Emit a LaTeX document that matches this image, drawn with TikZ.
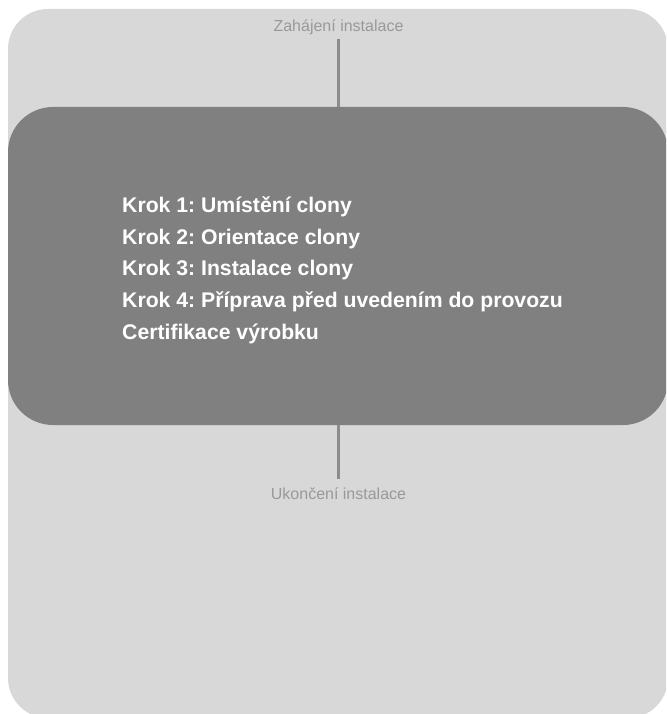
\documentclass[tikz,border=0pt]{standalone}
\usepackage{fontspec}
\setmainfont{Liberation Sans}
\frenchspacing
\definecolor{outerbg}{HTML}{D8D8D8}
\definecolor{boxbg}{HTML}{808080}
\definecolor{linecol}{HTML}{8C8C8C}
\definecolor{labelcol}{HTML}{999999}
\begin{document}
\begin{tikzpicture}[x=1pt,y=-1pt,
  framebox/.style={fill=outerbg,draw=none,rounded corners=40pt,minimum width=660pt,minimum height=709pt,inner sep=0pt},
  stepsbox/.style={fill=boxbg,draw=none,rounded corners=45pt,minimum width=660pt,minimum height=318pt,inner sep=0pt},
  steptext/.style={text=white,align=left,font=\bfseries\fontsize{21.2}{31.7}\selectfont,inner sep=0pt},
  endlabel/.style={text=labelcol,font=\fontsize{16}{18}\selectfont,inner sep=0pt},
  connector/.style={draw=linecol,line width=2.5pt}]
\useasboundingbox (0,0) rectangle (666,714);
\clip (0,0) rectangle (666,714);
\node[framebox] (frame) at (338,363.5) {};
\node[stepsbox] (steps) at (338,266) {};
\node[steptext] (list) at (342.5,270) {Krok 1: Umístění clony\\Krok 2: Orientace clony\\Krok 3: Instalace clony\\Krok 4: Příprava před uvedením do provozu\\Certifikace výrobku};
\node[endlabel] (start) at (338.5,27) {Zahájení instalace};
\node[endlabel] (finish) at (338.5,494) {Ukončení instalace};
\draw[connector,shorten <=12pt] (start.center) -- (start.center |- steps.north);
\draw[connector,shorten <=15pt] (finish.center) -- (finish.center |- steps.south);
\end{tikzpicture}
\end{document}
